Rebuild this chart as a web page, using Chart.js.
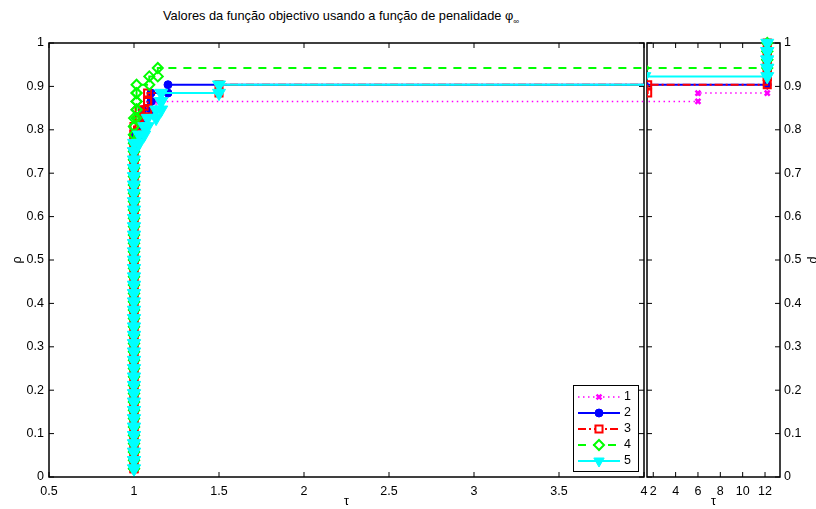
<!DOCTYPE html>
<html>
<head>
<meta charset="utf-8">
<script src="https://cdn.jsdelivr.net/npm/chart.js@4.4.0/dist/chart.umd.min.js"></script>
<style>
body { margin: 0; background: #fff; width: 816px; height: 509px; overflow: hidden; position: relative; font-family: "Liberation Sans", Arial, sans-serif; }
canvas { position: absolute; left: 0; top: 0; }
#title { position: absolute; left: 163px; top: 8px; font-size: 12.8px; white-space: nowrap; color: #000; }
#title sub { font-size: 8px; }
</style>
</head>
<body>
<div id="title">Valores da função objectivo usando a função de penalidade φ<sub>∞</sub></div>
<canvas id="leftChart" width="816" height="509"></canvas>
<canvas id="rightChart" width="816" height="509"></canvas>
<script>
const nProblems = 52;
const solverNames = ['1', '2', '3', '4', '5'];

// performance ratios (tau) and how many problems each solver solves at that ratio
const tau1 = [1, 1.03, 1.06, 1.08, 1.13, 6, 12.2]; const count1 = [41, 1, 1, 1, 1, 1, 6];
const tau2 = [1, 1.05, 1.1, 1.2, 12.2];       const count2 = [41, 3, 2, 1, 5];
const tau3 = [1, 1.03, 1.08, 1.5, 12.2];      const count3 = [42, 2, 2, 1, 5];
const tau4 = [1, 1.015, 1.09, 1.14, 12.2];    const count4 = [43, 4, 1, 1, 3];
const tau5 = [1, 1.03, 1.06, 1.08, 1.13, 1.16, 1.5, 12.2];
const count5 = [40, 1, 1, 1, 1, 2, 1, 5];
// right panel shows solver 5 already at the higher level
const tau5Right = [1, 1.2, 12.2];             const count5Right = [40, 8, 4];

const xTicksLeft = [0.5, 1, 1.5, 2, 2.5, 3, 3.5, 4];
const xTicksRight = [2, 4, 6, 8, 10, 12];
const yTicks = [0, 0.1, 0.2, 0.3, 0.4, 0.5, 0.6, 0.7, 0.8, 0.9, 1];

const styles = [
  { color: '#ff00ff', width: 1.5, dash: [1.5, 3.5], point: 'crossRot', radius: 3.5, fill: '#ff00ff', pw: 2.5, rot: 0 },
  { color: '#0000ff', width: 2, dash: [], point: 'circle', radius: 4, fill: '#0000ff', pw: 1, rot: 0 },
  { color: '#ff0000', width: 2, dash: [8, 3, 2, 3], point: 'rect', radius: 5, fill: 'rgba(0,0,0,0)', pw: 2, rot: 0 },
  { color: '#00ff00', width: 2, dash: [8, 7], point: 'rectRot', radius: 5, fill: 'rgba(0,0,0,0)', pw: 2, rot: 0 },
  { color: '#00ffff', width: 2, dash: [], point: 'triangle', radius: 7.5, fill: '#00ffff', pw: 1, rot: 180 }
];

// stairs vertices, like matlab's stairs(r, (1:n)/n)
function stairs(taus, counts) {
  const pts = [];
  let k = 0;
  taus.forEach((t, j) => {
    for (let c = 0; c < counts[j]; c++) {
      if (pts.length) pts.push({ x: t, y: k / nProblems });
      k++;
      pts.push({ x: t, y: k / nProblems });
    }
  });
  return pts;
}

function makeDatasets(series, clip) {
  return series.map((s, i) => {
    const st = styles[i];
    return {
      label: solverNames[i],
      data: stairs(s[0], s[1]),
      borderColor: st.color,
      borderWidth: st.width,
      borderDash: st.dash,
      pointStyle: st.point,
      pointRadius: st.radius,
      pointRotation: st.rot,
      pointBackgroundColor: st.fill,
      pointBorderColor: st.color,
      pointBorderWidth: st.pw,
      tension: 0,
      fill: false,
      clip: clip,
      order: series.length - i
    };
  });
}

const frame = {
  id: 'frame',
  beforeDatasetsDraw(chart) {
    const { ctx, chartArea: a, scales: { x, y } } = chart;
    ctx.save();
    ctx.strokeStyle = '#000';
    ctx.lineWidth = 1.5;
    ctx.strokeRect(a.left, a.top, a.right - a.left, a.bottom - a.top);
    ctx.lineWidth = 1;
    ctx.beginPath();
    x.ticks.forEach(t => {
      const p = x.getPixelForValue(t.value);
      ctx.moveTo(p, a.bottom); ctx.lineTo(p, a.bottom - 5);
      ctx.moveTo(p, a.top); ctx.lineTo(p, a.top + 5);
    });
    y.ticks.forEach(t => {
      const p = y.getPixelForValue(t.value);
      ctx.moveTo(a.left, p); ctx.lineTo(a.left + 5, p);
      ctx.moveTo(a.right, p); ctx.lineTo(a.right - 5, p);
    });
    ctx.stroke();
    ctx.restore();
  }
};

const legendBox = {
  id: 'legendBox',
  afterDraw(chart) {
    const { ctx, chartArea: a } = chart;
    const w = 65, h = 86;
    const x0 = a.right - 6 - w, y0 = a.bottom - 6 - h;
    ctx.save();
    ctx.fillStyle = '#fff';
    ctx.fillRect(x0, y0, w, h);
    ctx.strokeStyle = '#000';
    ctx.lineWidth = 1;
    ctx.strokeRect(x0 + 0.5, y0 + 0.5, w, h);
    chart.data.datasets.forEach((ds, i) => {
      const y = y0 + 12 + i * 16;
      ctx.strokeStyle = ds.borderColor;
      ctx.lineWidth = ds.borderWidth;
      ctx.setLineDash(ds.borderDash);
      ctx.beginPath();
      ctx.moveTo(x0 + 5, y);
      ctx.lineTo(x0 + 47, y);
      ctx.stroke();
      ctx.setLineDash([]);
      ctx.fillStyle = ds.pointBackgroundColor === 'rgba(0,0,0,0)' ? '#fff' : ds.pointBackgroundColor;
      ctx.strokeStyle = ds.pointBorderColor;
      ctx.lineWidth = ds.pointBorderWidth;
      const r = ds.pointStyle === 'triangle' ? 6 : ds.pointRadius;
      Chart.helpers.drawPoint(ctx, { pointStyle: ds.pointStyle, radius: r, rotation: ds.pointRotation, borderWidth: ds.pointBorderWidth }, x0 + 26, y);
      ctx.fillStyle = '#000';
      ctx.font = '12.5px "Liberation Sans", Arial, sans-serif';
      ctx.textBaseline = 'middle';
      ctx.fillText(ds.label, x0 + 51, y);
    });
    ctx.restore();
  }
};

const font = { family: '"Liberation Sans", Arial, sans-serif', size: 12.5 };

function xScale(min, max, tickVals) {
  return {
    type: 'linear', min: min, max: max,
    afterBuildTicks: s => { s.ticks = tickVals.map(v => ({ value: v })); },
    afterFit: s => { s.height = 32; },
    grid: { display: false, drawTicks: false },
    border: { display: false },
    ticks: { font: font, color: '#000', padding: 7, maxRotation: 0, autoSkip: false, callback: v => String(v) },
    title: { display: true, text: 'τ', font: font, color: '#000', padding: 0 }
  };
}

function yScale(pos, width) {
  return {
    type: 'linear', min: 0, max: 1, position: pos,
    afterBuildTicks: s => { s.ticks = yTicks.map(v => ({ value: v })); },
    afterFit: s => { s.width = width; },
    grid: { display: false, drawTicks: false },
    border: { display: false },
    ticks: { font: font, color: '#000', padding: pos === 'left' ? 5 : 4, autoSkip: false, callback: v => String(v) },
    title: { display: true, text: 'ρ', font: font, color: '#000', padding: { top: pos === 'left' ? 10 : -5, bottom: 0 } }
  };
}

const commonPlugins = { legend: { display: false }, tooltip: { enabled: false }, title: { display: false } };

new Chart(document.getElementById('leftChart'), {
  type: 'line',
  data: {
    datasets: makeDatasets([[tau1, count1], [tau2, count2], [tau3, count3], [tau4, count4], [tau5, count5]],
      { left: 8, top: 8, right: 0, bottom: 8 })
  },
  options: {
    responsive: false, animation: false, events: [],
    layout: { padding: { left: 0, right: 172, top: 43, bottom: 0 } },
    scales: { x: xScale(0.5, 4, xTicksLeft), y: yScale('left', 49) },
    plugins: commonPlugins
  },
  plugins: [frame, legendBox]
});

new Chart(document.getElementById('rightChart'), {
  type: 'line',
  data: {
    datasets: makeDatasets([[tau1, count1], [tau2, count2], [tau3, count3], [tau4, count4], [tau5Right, count5Right]],
      { left: 0, top: 8, right: 8, bottom: 8 })
  },
  options: {
    responsive: false, animation: false, events: [],
    layout: { padding: { left: 647, right: 0, top: 43, bottom: 0 } },
    scales: { x: xScale(1.44, 13.34, xTicksRight), y: yScale('right', 36) },
    plugins: commonPlugins
  },
  plugins: [frame]
});
</script>
</body>
</html>
